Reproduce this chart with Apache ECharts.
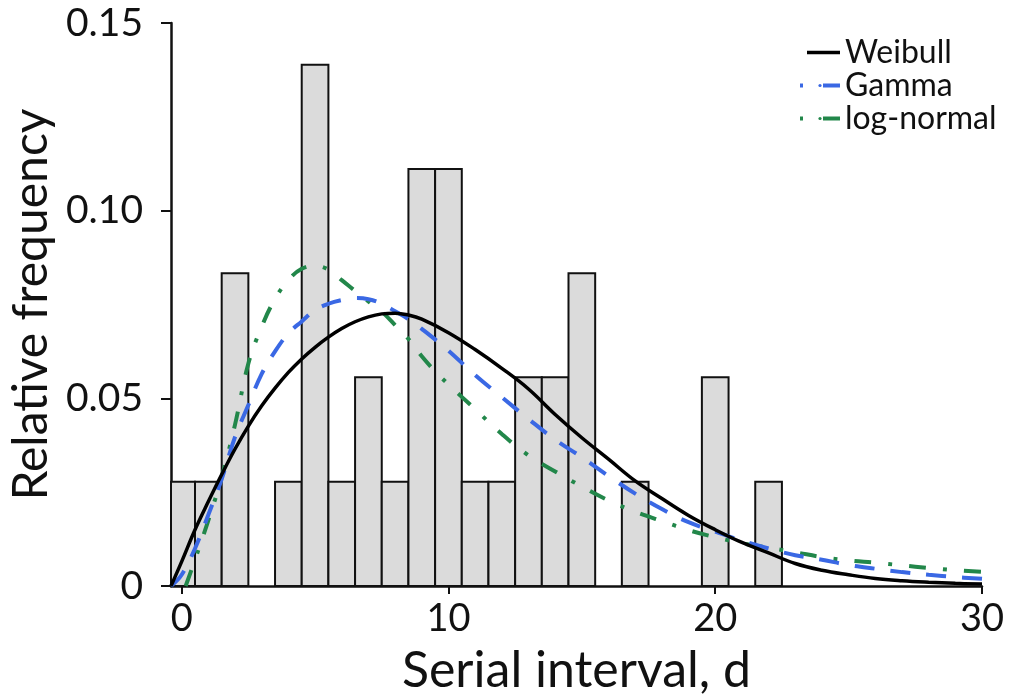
<!DOCTYPE html>
<html>
<head>
<meta charset="utf-8">
<script src="https://cdn.jsdelivr.net/npm/echarts@6/dist/echarts.min.js"></script>
<style>
  html, body { margin: 0; padding: 0; background: #ffffff; }
  #chart { width: 1013px; height: 698px; }
</style>
</head>
<body>
<div id="chart"></div>
<script>
// Histogram of serial intervals (days), one bin per day, relative frequency
const binDays = [0, 1, 2, 3, 4, 5, 6, 7, 8, 9, 10, 11, 12, 13, 14, 15, 16, 17, 18, 19, 20, 21, 22];
const binFreq = [0.0278, 0.0278, 0.0833, 0, 0.0278, 0.1389, 0.0278, 0.0556, 0.0278, 0.1111, 0.1111,
                 0.0278, 0.0278, 0.0556, 0.0556, 0.0833, 0, 0.0278, 0, 0, 0.0556, 0, 0.0278];

// Fitted density curves, [day, density]
const weibullCurve = [
  [-0.4, 0], [0, 0.0065], [0.5, 0.0150], [1, 0.0225], [1.5, 0.0297], [2, 0.0365], [2.5, 0.0426],
  [3, 0.0480], [3.5, 0.0527], [4, 0.0569], [4.5, 0.0605], [5, 0.0636], [5.5, 0.0663], [6, 0.0686],
  [6.5, 0.0704], [7, 0.0717], [7.5, 0.0725], [8, 0.0727], [8.5, 0.0722], [9, 0.0711], [10, 0.0675],
  [11, 0.0630], [12, 0.0580], [13, 0.0525], [14, 0.0457], [15, 0.0395], [16, 0.0338], [17, 0.0280],
  [18, 0.0233], [19, 0.0188], [20, 0.0150], [21, 0.0116], [22, 0.0088], [23, 0.0060], [24, 0.0042],
  [25, 0.0030], [26, 0.0020], [27, 0.0014], [28, 0.0010], [29, 0.0007], [30, 0.0005]
];
const gammaCurve = [
  [-0.4, 0], [0, 0.0030], [0.5, 0.0100], [1, 0.0190], [1.5, 0.0285], [2, 0.0397], [2.5, 0.0482],
  [3, 0.0565], [3.5, 0.0625], [4, 0.0673], [4.5, 0.0705], [5, 0.0735], [5.5, 0.0752], [6, 0.0762],
  [6.5, 0.0767], [7, 0.0764], [7.5, 0.0752], [8, 0.0732], [8.5, 0.0711], [9, 0.0685], [10, 0.0627],
  [11, 0.0562], [12, 0.0503], [13, 0.0445], [14, 0.0390], [15, 0.0343], [16, 0.0293], [17, 0.0246],
  [18, 0.0205], [19, 0.0170], [20, 0.0145], [21, 0.0121], [22, 0.0100], [23, 0.0082], [24, 0.0070],
  [25, 0.0056], [26, 0.0046], [27, 0.0037], [28, 0.0030], [29, 0.0024], [30, 0.0019]
];
const logNormalCurve = [
  [0.15, 0], [0.5, 0.0070], [1, 0.0175], [1.5, 0.0290], [2, 0.0430], [2.5, 0.0593], [3, 0.0691],
  [3.5, 0.0765], [4, 0.0815], [4.5, 0.0845], [5, 0.0853], [5.5, 0.0843], [6, 0.0815], [6.5, 0.0786],
  [7, 0.0758], [7.5, 0.0731], [8, 0.0695], [8.5, 0.0658], [9, 0.0612], [9.5, 0.0572], [10, 0.0537],
  [11, 0.0471], [12, 0.0405], [13, 0.0348], [14, 0.0305], [15, 0.0265], [16, 0.0228], [17, 0.0198],
  [18, 0.0173], [19, 0.0149], [20, 0.0130], [21, 0.0114], [22, 0.0102], [23, 0.0090], [24, 0.0077],
  [25, 0.0068], [26, 0.0062], [27, 0.0055], [28, 0.0048], [29, 0.0042], [30, 0.0038]
];

// Axis ticks and their labels
const xTicks = [0, 10, 20, 30];
const yTicks = [0, 0.05, 0.10, 0.15];
const yTickLabels = ['0', '0.05', '0.10', '0.15'];

const seriesNames = ['Weibull', 'Gamma', 'log-normal'];

const FONT = 'Lato';
const chart = echarts.init(document.getElementById('chart'), null, { renderer: 'canvas' });

const histData = binDays.map((d, i) => [d, binFreq[i]]);

function renderBin(params, api) {
  const d = api.value(0);
  const v = api.value(1);
  if (!v) return null;
  const p0 = api.coord([d - 0.5, v]);
  const p1 = api.coord([d + 0.5, 0]);
  const rect = echarts.graphic.clipRectByRect(
    { x: p0[0], y: p0[1], width: p1[0] - p0[0], height: p1[1] - p0[1] },
    { x: params.coordSys.x, y: params.coordSys.y, width: params.coordSys.width, height: params.coordSys.height }
  );
  if (!rect) return null;
  return {
    type: 'rect',
    shape: rect,
    style: { fill: '#dbdbdb', stroke: '#111111', lineWidth: 2 }
  };
}

const option = {
  backgroundColor: '#ffffff',
  animation: false,
  grid: { left: 171, right: 31, top: 23, bottom: 112, containLabel: false, outerBoundsMode: 'none' },
  legend: {
    orient: 'vertical',
    left: 793,
    top: 31,
    itemWidth: 40,
    itemHeight: 4,
    itemGap: 0,
    textStyle: { fontFamily: FONT, fontSize: 32, color: '#111111', lineHeight: 33, padding: [0, 0, 0, 0] },
    data: [
      { name: seriesNames[0], lineStyle: { type: [0, 7, 33], width: 3.5 } },
      { name: seriesNames[1], lineStyle: { type: [3, 20, 17], width: 4 } },
      { name: seriesNames[2], lineStyle: { type: [3, 20, 17], width: 4 } }
    ]
  },
  xAxis: {
    type: 'value',
    min: -0.4,
    max: 30,
    name: 'Serial interval, d',
    nameLocation: 'middle',
    nameGap: 60,
    nameTextStyle: { fontFamily: FONT, fontSize: 50, color: '#111111' },
    splitLine: { show: false },
    axisLine: { show: true, onZero: false, lineStyle: { color: '#111111', width: 2.5 } },
    axisTick: { show: true, length: 8, customValues: xTicks, lineStyle: { color: '#111111', width: 2 } },
    axisLabel: { customValues: xTicks, margin: 14, fontFamily: FONT, fontSize: 38, color: '#111111' }
  },
  yAxis: {
    type: 'value',
    min: 0,
    max: 0.15,
    name: 'Relative frequency',
    nameLocation: 'middle',
    nameGap: 110,
    nameTextStyle: { fontFamily: FONT, fontSize: 48, color: '#111111' },
    splitLine: { show: false },
    axisLine: { show: true, onZero: false, lineStyle: { color: '#111111', width: 2.5 } },
    axisTick: { show: true, length: 10, customValues: yTicks, lineStyle: { color: '#111111', width: 2 } },
    axisLabel: {
      customValues: yTicks,
      margin: 28,
      fontFamily: FONT,
      fontSize: 39,
      color: '#111111',
      formatter: (val) => {
        const i = yTicks.findIndex(t => Math.abs(t - val) < 1e-9);
        return i >= 0 ? yTickLabels[i] : '';
      }
    }
  },
  series: [
    {
      name: 'bins',
      type: 'custom',
      renderItem: renderBin,
      data: histData,
      encode: { x: 0, y: 1 },
      z: 1,
      silent: true
    },
    {
      name: seriesNames[0],
      type: 'line',
      data: weibullCurve,
      smooth: 0.4,
      symbol: 'none',
      z: 5,
      lineStyle: { color: '#000000', width: 3.5, type: 'solid' },
      itemStyle: { color: '#000000' }
    },
    {
      name: seriesNames[1],
      type: 'line',
      data: gammaCurve,
      smooth: 0.4,
      symbol: 'none',
      z: 4,
      lineStyle: { color: '#3a68e4', width: 4, type: [20, 16] },
      itemStyle: { color: '#3a68e4' }
    },
    {
      name: seriesNames[2],
      type: 'line',
      data: logNormalCurve,
      smooth: 0.4,
      symbol: 'none',
      z: 3,
      lineStyle: { color: '#22874a', width: 4, type: [17, 17, 4, 17] },
      itemStyle: { color: '#22874a' }
    }
  ]
};

chart.setOption(option);
</script>
</body>
</html>
